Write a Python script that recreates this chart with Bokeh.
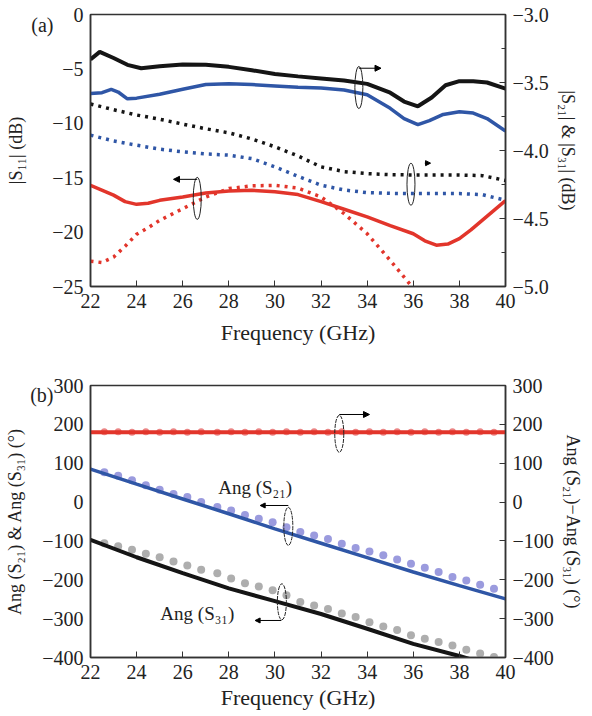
import math
from bokeh.plotting import figure
from bokeh.models import (Range1d, LinearAxis, FixedTicker, CustomJSTickFormatter,
                          Arrow, NormalHead, Label)
from bokeh.layouts import column
from bokeh.embed import file_html
from bokeh.resources import INLINE

# ---------------- data: panel (a) ----------------
f_s21 = [22, 22.4, 23, 23.6, 24.2, 25, 26, 27, 28, 29, 30, 31, 32, 33, 34, 35, 35.6, 36.2, 36.8, 37.4, 38, 38.6, 39.2, 40]
s21_meas = [-3.33, -3.275, -3.32, -3.37, -3.395, -3.38, -3.367, -3.37, -3.385, -3.41, -3.437, -3.455, -3.47, -3.485,
            -3.51, -3.575, -3.64, -3.675, -3.61, -3.52, -3.49, -3.49, -3.50, -3.545]
f_s31 = [22, 22.5, 22.9, 23.2, 23.6, 24, 25, 26, 27, 28, 29, 30, 31, 32, 33, 34, 35, 35.6, 36.2, 36.7, 37.3, 38, 38.6, 39.2, 40]
s31_meas = [-3.58, -3.575, -3.55, -3.57, -3.62, -3.615, -3.587, -3.55, -3.515, -3.51, -3.515, -3.525, -3.535, -3.54,
            -3.555, -3.59, -3.69, -3.765, -3.81, -3.78, -3.735, -3.715, -3.725, -3.765, -3.857]
f_sim = [22, 23, 24, 25, 26, 27, 28, 29, 30, 31, 32, 33, 34, 35, 36, 37, 38, 39, 40]
s21_sim = [-3.658, -3.70, -3.739, -3.77, -3.806, -3.84, -3.87, -3.915, -3.973, -4.04, -4.12, -4.155, -4.17, -4.178,
           -4.18, -4.18, -4.18, -4.185, -4.22]
s31_sim = [-3.887, -3.93, -3.961, -3.99, -4.01, -4.025, -4.034, -4.06, -4.12, -4.19, -4.255, -4.29, -4.31, -4.315,
           -4.317, -4.317, -4.317, -4.325, -4.366]
f_s11 = [22, 23, 23.5, 24, 24.5, 25, 26, 27, 28, 29, 30, 31, 32, 33, 34, 35, 36, 36.5, 37, 37.5, 38, 38.5, 39, 39.5, 40]
s11_meas = [-15.7, -16.6, -17.2, -17.45, -17.35, -17.08, -16.77, -16.4, -16.22, -16.16, -16.3, -16.55, -17.2, -17.9,
            -18.6, -19.4, -20.15, -20.8, -21.2, -21.1, -20.6, -19.8, -18.9, -18.0, -17.1]
f_s11_sim = [22, 22.5, 23, 23.5, 24, 24.5, 25, 26, 27, 28, 29, 30, 31, 32, 33, 34, 35, 35.9, 36.2]
s11_sim = [-22.67, -22.8, -22.3, -21.3, -20.2, -19.6, -18.92, -17.85, -16.77, -16.0, -15.75, -15.7, -15.95, -16.77,
           -18.3, -20.15, -22.6, -24.9, -25.8]

# ---------------- data: panel (b) ----------------
f_line = [22, 24, 26, 28, 30, 32, 34, 36, 38, 40]
ang_s21_line = [85, 46, 8, -30, -69, -106, -143, -180, -215, -249]
ang_s31_line = [-97, -142, -183, -222, -255, -288, -326, -365, -396, -432]
diff_line = [180, 180, 180, 180, 180, 180, 180, 180, 180, 180]
f_dot = [22.6, 23.2, 23.8, 24.4, 25.0, 25.6, 26.2, 26.8, 27.5, 28.1, 28.7, 29.3, 29.9, 30.5, 31.1, 31.7, 32.3,
         32.9, 33.5, 34.1, 34.7, 35.3, 35.9, 36.5, 37.1, 37.7, 38.3, 38.9, 39.5]
ang_s21_dot = [77, 68, 56, 43, 32, 21, 13, 0, -13, -22, -33, -43, -52, -65, -77, -86, -95, -107, -118, -127, -137,
               -148, -159, -169, -180, -193, -202, -213, -223]
ang_s31_dot = [-106, -114, -123, -133, -142, -153, -163, -174, -183, -197, -209, -217, -227, -240, -257, -266, -275,
               -287, -296, -309, -320, -329, -343, -352, -360, -369, -380, -390, -399]
diff_dot = [181, 181, 180, 181, 180, 181, 180, 181, 180, 181, 180, 181, 180, 181, 180, 181, 180, 181, 180, 181, 180,
            181, 180, 181, 180, 181, 180, 181, 180]

x_ticks = [22, 24, 26, 28, 30, 32, 34, 36, 38, 40]
s11_ticks = [0, -5, -10, -15, -20, -25]
s21_ticks = [-3.0, -3.5, -4.0, -4.5, -5.0]
s21_minor = [-3.25, -3.75, -4.25, -4.75]
ang_ticks = [300, 200, 100, 0, -100, -200, -300, -400]

FONT = "Liberation Serif"
AXC = "#333333"
TXT = "#222222"
BLACK = "#151515"
BLUE = "#2f56a6"
RED = "#e2352b"
PAD = "\u00a0" * 6


# tick formatter: proper minus signs, plus the panel tag placed as a padded tick label
def tag_fmt(tag_tick, tag):
    code = ("if (Math.abs(tick - (%s)) < 1e-6) { return '%s'; } "
            "return String(tick).replace('-', '\\u2212');") % (tag_tick, tag + PAD)
    return CustomJSTickFormatter(code=code)


minus_fmt = CustomJSTickFormatter(code="return String(tick).replace('-', '\u2212');")
minus_fmt1 = CustomJSTickFormatter(code="return tick.toFixed(1).replace('-', '\u2212');")


def style_axis(ax, tick_size="20px", label_size="18px"):
    ax.axis_line_color = AXC
    ax.axis_line_width = 1.5
    ax.major_tick_line_color = AXC
    ax.minor_tick_line_color = AXC
    ax.major_tick_in = 6
    ax.major_tick_out = 0
    ax.minor_tick_in = 4
    ax.minor_tick_out = 0
    ax.major_label_text_font = FONT
    ax.major_label_text_font_size = tick_size
    ax.major_label_text_color = TXT
    ax.axis_label_text_font = FONT
    ax.axis_label_text_font_size = label_size
    ax.axis_label_text_font_style = "normal"
    ax.axis_label_text_color = TXT
    ax.major_label_standoff = 7


def base_fig(height, top, bottom, right, xlabel_standoff):
    p = figure(width=592, height=height, output_backend="svg", toolbar_location=None,
               x_range=Range1d(22, 40), min_border_left=90, min_border_right=right,
               min_border_top=top, min_border_bottom=bottom)
    p.xgrid.visible = False
    p.ygrid.visible = False
    p.outline_line_color = AXC
    p.outline_line_width = 1.5
    p.background_fill_color = "white"
    p.border_fill_color = "white"
    p.xaxis.ticker = FixedTicker(ticks=x_ticks)
    p.xaxis.axis_label = "Frequency (GHz)"
    style_axis(p.xaxis[0], label_size="22px")
    p.xaxis.axis_label_standoff = xlabel_standoff
    return p


# ================= panel (a) =================
pa = base_fig(350, 14, 64, 87, 9)
pa.y_range = Range1d(-25, 0)
pa.extra_y_ranges = {"right": Range1d(-5, -3)}
pa.yaxis.ticker = FixedTicker(ticks=s11_ticks + [-0.95])
pa.yaxis.formatter = tag_fmt(-0.95, "(a)")
pa.yaxis.axis_label = "|S\u2081\u2081| (dB)"
style_axis(pa.yaxis[0])
pa.yaxis.axis_label_standoff = 2
pa.yaxis.major_tick_in = 0
ra = LinearAxis(y_range_name="right", ticker=FixedTicker(ticks=s21_ticks, minor_ticks=s21_minor),
                formatter=minus_fmt1, axis_label="|S\u2082\u2081| & |S\u2083\u2081| (dB)")
style_axis(ra)
ra.axis_label_standoff = 6
pa.add_layout(ra, "right")

pa.line(f_s21, s21_meas, y_range_name="right", line_color=BLACK, line_width=4)
pa.line(f_s31, s31_meas, y_range_name="right", line_color=BLUE, line_width=3.5)
pa.line(f_sim, s21_sim, y_range_name="right", line_color=BLACK, line_width=3.5, line_dash="3 5")
pa.line(f_sim, s31_sim, y_range_name="right", line_color=BLUE, line_width=3.5, line_dash="3 5")
pa.line(f_s11, s11_meas, line_color=RED, line_width=3.5)
pa.line(f_s11_sim, s11_sim, line_color=RED, line_width=3.5, line_dash="3 5")

# ellipses and arrows (a)
pa.ellipse(x=[26.63], y=[-16.9], width=8, height=42, width_units="screen", height_units="screen",
           fill_alpha=0, line_color=TXT, line_width=1)
pa.ellipse(x=[33.64], y=[-6.71], width=8, height=42, width_units="screen", height_units="screen",
           fill_alpha=0, line_color=TXT, line_width=1)
pa.ellipse(x=[35.9], y=[-15.6], width=8, height=42, width_units="screen", height_units="screen",
           fill_alpha=0, line_color=TXT, line_width=1)
pa.add_layout(Arrow(end=NormalHead(size=6, fill_color="black", line_color="black"),
                    x_start=26.63, y_start=-15.15, x_end=25.6, y_end=-15.15, line_width=1))
pa.add_layout(Arrow(end=NormalHead(size=6, fill_color="black", line_color="black"),
                    x_start=33.64, y_start=-3.395, x_end=34.6, y_end=-3.395, line_width=1,
                    y_range_name="right"))
pa.add_layout(Arrow(end=NormalHead(size=5, fill_color="black", line_color="black"),
                    x_start=36.5, y_start=-4.093, x_end=36.75, y_end=-4.093, line_width=1,
                    y_range_name="right"))

# ================= panel (b) =================
pb = base_fig(366, 35, 59, 86, 3)
pb.y_range = Range1d(-400, 300)
pb.extra_y_ranges = {"right": Range1d(-400, 300)}
pb.yaxis.ticker = FixedTicker(ticks=ang_ticks + [276.8])
pb.yaxis.formatter = tag_fmt(276.8, "(b)")
pb.yaxis.axis_label = "Ang (S\u2082\u2081) & Ang (S\u2083\u2081) (\u00b0)"
style_axis(pb.yaxis[0])
pb.yaxis.axis_label_standoff = 2
pb.yaxis.major_tick_in = 0
rb = LinearAxis(y_range_name="right", ticker=FixedTicker(ticks=ang_ticks), formatter=minus_fmt,
                axis_label="Ang (S\u2082\u2081)\u2212Ang (S\u2083\u2081) (\u00b0)")
style_axis(rb)
rb.axis_label_standoff = 6
pb.add_layout(rb, "right")

pb.scatter(f_dot, diff_dot, y_range_name="right", size=7, fill_color="#e87070", line_color=None, fill_alpha=0.85)
pb.scatter(f_dot, ang_s21_dot, size=8, fill_color="#8a8ad8", line_color=None, fill_alpha=0.85)
pb.scatter(f_dot, ang_s31_dot, size=8, fill_color="#a0a0a0", line_color=None, fill_alpha=0.85)
pb.line(f_line, diff_line, y_range_name="right", line_color=RED, line_width=4)
pb.line(f_line, ang_s21_line, line_color=BLUE, line_width=3.5)
pb.line(f_line, ang_s31_line, line_color=BLACK, line_width=4)

pb.ellipse(x=[32.79], y=[175.7], width=9, height=37, width_units="screen", height_units="screen",
           fill_alpha=0, line_color=TXT, line_width=1, line_dash="4 1")
pb.ellipse(x=[30.58], y=[-62.4], width=9, height=38, width_units="screen", height_units="screen",
           fill_alpha=0, line_color=TXT, line_width=1, line_dash="4 1")
pb.ellipse(x=[30.3], y=[-256.7], width=9, height=36, width_units="screen", height_units="screen",
           fill_alpha=0, line_color=TXT, line_width=1, line_dash="4 1")
pb.add_layout(Arrow(end=NormalHead(size=6, fill_color="black", line_color="black"),
                    x_start=32.79, y_start=225.4, x_end=34.1, y_end=225.4, line_width=1, y_range_name="right"))
pb.add_layout(Arrow(end=NormalHead(size=5, fill_color="black", line_color="black"),
                    x_start=30.58, y_start=-8.8, x_end=29.36, y_end=-8.8, line_width=1))
pb.add_layout(Arrow(end=NormalHead(size=5, fill_color="black", line_color="black"),
                    x_start=30.28, y_start=-304.7, x_end=29.14, y_end=-304.7, line_width=1))
pb.add_layout(Label(x=27.54, y=38.3, text="Ang (S\u2082\u2081)", text_font=FONT, text_font_size="19px",
                    text_baseline="middle", text_color=TXT))
pb.add_layout(Label(x=25.03, y=-286.7, text="Ang (S\u2083\u2081)", text_font=FONT, text_font_size="19px",
                    text_baseline="middle", text_color=TXT))

layout = column(pa, pb, spacing=0)
open("out.html", "w").write(file_html(layout, INLINE))
